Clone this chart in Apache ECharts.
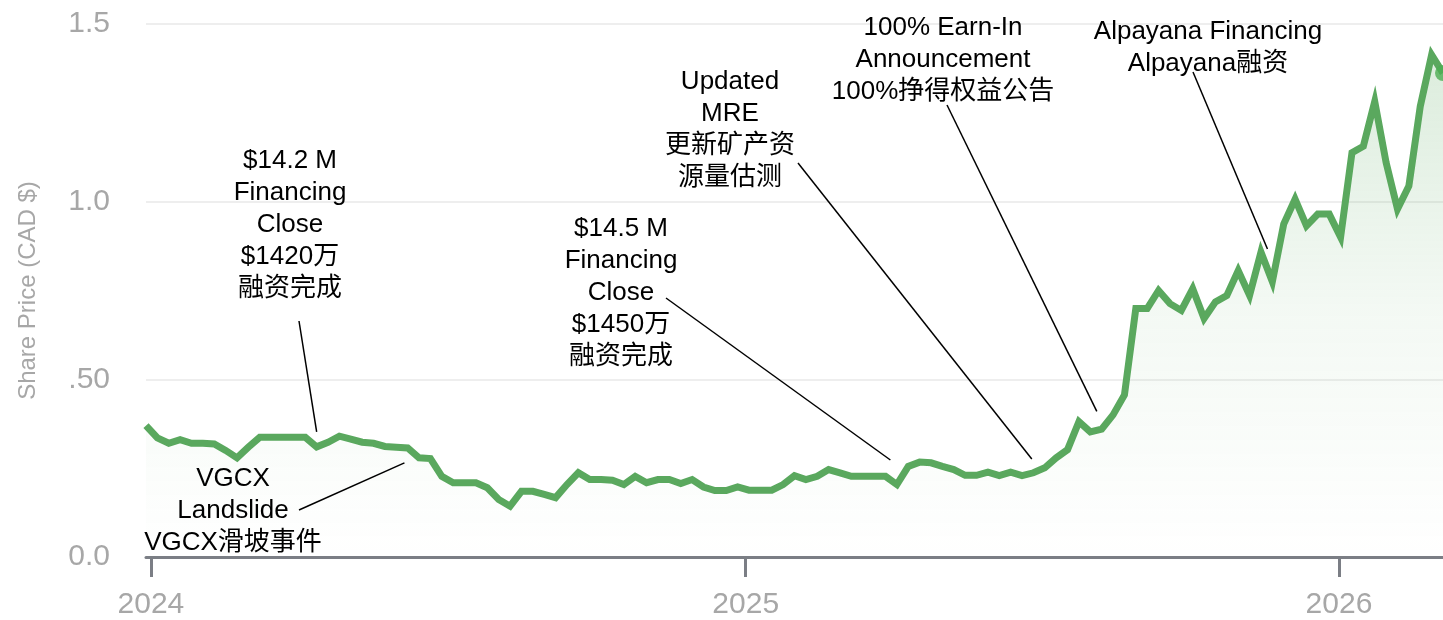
<!DOCTYPE html>
<html>
<head>
    <meta charset="utf-8">
    <title>Share Price</title>
    <script src="https://cdn.jsdelivr.net/npm/echarts@6/dist/echarts.min.js"></script>
    <style>
        html, body { margin: 0; padding: 0; background: #fff; }
    </style>
</head>
<body>
    <div id="main" style="width: 1443px;height:620px;"></div>
    <script type="text/javascript">
        // weekly closes (Fridays), first one below
        var firstWeek = '2023-12-29';
        var weeklyPrice = [
            0.37, 0.335, 0.32, 0.33, 0.32, 0.32, 0.318, 0.30, 0.279, 0.309,
            0.337, 0.337, 0.337, 0.337, 0.337, 0.31, 0.323, 0.34, 0.332, 0.323,
            0.32, 0.311, 0.309, 0.307, 0.279, 0.277, 0.227, 0.209, 0.209, 0.209,
            0.195, 0.162, 0.143, 0.185, 0.185, 0.176, 0.167, 0.204, 0.237, 0.218,
            0.218, 0.216, 0.204, 0.227, 0.209, 0.218, 0.218, 0.207, 0.218, 0.197,
            0.187, 0.187, 0.197, 0.188, 0.188, 0.188, 0.204, 0.229, 0.218, 0.227,
            0.246, 0.237, 0.227, 0.227, 0.227, 0.227, 0.204, 0.255, 0.267, 0.265,
            0.255, 0.246, 0.23, 0.23, 0.239, 0.229, 0.239, 0.229, 0.237, 0.251,
            0.279, 0.302, 0.381, 0.352, 0.36, 0.40, 0.456, 0.699, 0.699, 0.75,
            0.713, 0.694, 0.755, 0.671, 0.718, 0.736, 0.806, 0.736, 0.858, 0.775,
            0.937, 1.007, 0.932, 0.965, 0.965, 0.90, 1.138, 1.156, 1.282, 1.11,
            0.979, 1.044, 1.268, 1.413, 1.362
        ];
        var yearTicks = ['2024-01-01', '2025-01-01', '2026-01-01'];
        var priceTicks = {0: '0.0', 0.5: '.50', 1: '1.0', 1.5: '1.5'};

        // events
        var eventLabels = [
            '$14.2 M\nFinancing\nClose\n$1420万\n融资完成',
            'VGCX\nLandslide\nVGCX滑坡事件',
            '$14.5 M\nFinancing\nClose\n$1450万\n融资完成',
            'Updated\nMRE\n更新矿产资\n源量估测',
            '100% Earn-In\nAnnouncement\n100%挣得权益公告',
            'Alpayana Financing\nAlpayana融资'
        ];
        var eventDates = ['2024-04-12', '2024-06-05', '2025-03-31', '2025-06-26', '2025-08-05', '2025-11-18'];
        var eventPrices = [0.352, 0.265, 0.273, 0.276, 0.41, 0.867];

        // where the text boxes sit (center x, top y) and where the leader line leaves them
        var labelPos = [[290, 145], [233, 463], [621, 213], [730, 66], [943, 12], [1208, 16]];
        var leaderFrom = [[299, 321], [299, 510], [666, 298], [798, 163], [947, 105], [1193, 72]];

        function utc(s) {
            var p = s.split('-');
            return Date.UTC(+p[0], +p[1] - 1, +p[2]);
        }

        var seriesData = [];
        var t0 = utc(firstWeek);
        for (var i = 0; i < weeklyPrice.length; i++) {
            seriesData.push([t0 + i * 7 * 86400000, weeklyPrice[i]]);
        }
        var lastPoint = seriesData[seriesData.length - 1];
        var yearTickValues = yearTicks.map(utc);

        var textFont = "26px 'Liberation Sans', 'Noto Sans CJK SC', sans-serif";
        var grey = '#a7a7a7';

        var myChart = echarts.init(document.getElementById('main'));

        // x is a plain value axis of timestamps so the year ticks can be placed exactly
        var option = {
            animation: false,
            grid: { left: 146, right: 0, top: 24, bottom: 60 },
            xAxis: {
                type: 'value',
                min: seriesData[0][0],
                max: lastPoint[0],
                axisLine: { lineStyle: { color: '#7b7e85', width: 3 } },
                axisTick: {
                    show: true,
                    length: 20,
                    customValues: yearTickValues,
                    lineStyle: { color: '#7b7e85', width: 3 }
                },
                axisLabel: {
                    customValues: yearTickValues,
                    formatter: function (v) { return String(new Date(v).getUTCFullYear()); },
                    color: grey,
                    fontSize: 30,
                    fontFamily: 'Liberation Sans',
                    margin: 33,
                    showMinLabel: true,
                    showMaxLabel: true
                },
                splitLine: { show: false }
            },
            yAxis: {
                type: 'value',
                min: 0,
                max: 1.5,
                interval: 0.5,
                name: 'Share Price (CAD $)',
                nameLocation: 'middle',
                nameGap: 106,
                nameTextStyle: { color: grey, fontSize: 24, fontFamily: 'Liberation Sans' },
                axisLine: { show: false },
                axisTick: { show: false },
                axisLabel: {
                    formatter: function (v) { return priceTicks[v]; },
                    color: grey,
                    fontSize: 30,
                    fontFamily: 'Liberation Sans',
                    margin: 36
                },
                splitLine: { lineStyle: { color: '#eeeeee', width: 2 } }
            },
            series: [
                {
                    type: 'line',
                    data: seriesData,
                    showSymbol: false,
                    symbol: 'none',
                    lineStyle: { color: '#5aa85e', width: 7, join: 'miter' },
                    areaStyle: {
                        color: new echarts.graphic.LinearGradient(0, 0, 0, 1, [
                            { offset: 0, color: 'rgba(90,168,94,0.30)' },
                            { offset: 0.5, color: 'rgba(90,168,94,0.10)' },
                            { offset: 1, color: 'rgba(90,168,94,0)' }
                        ])
                    },
                    z: 3
                },
                {
                    type: 'scatter',
                    data: [lastPoint],
                    symbolSize: 16,
                    itemStyle: { color: '#4cae52' },
                    z: 4
                }
            ]
        };
        myChart.setOption(option);

        // annotations: text + leader line to the price on that date
        var graphics = [];
        for (var k = 0; k < eventLabels.length; k++) {
            var end = myChart.convertToPixel({ gridIndex: 0 }, [utc(eventDates[k]), eventPrices[k]]);
            graphics.push({
                type: 'line',
                shape: { x1: leaderFrom[k][0], y1: leaderFrom[k][1], x2: end[0], y2: end[1] },
                style: { stroke: '#000', lineWidth: 1.5 },
                z: 10
            });
            graphics.push({
                type: 'text',
                x: labelPos[k][0],
                y: labelPos[k][1],
                style: {
                    text: eventLabels[k],
                    font: textFont,
                    fill: '#000',
                    align: 'center',
                    verticalAlign: 'top',
                    lineHeight: 32
                },
                z: 10
            });
        }
        myChart.setOption({ graphic: graphics });
    </script>
</body>
</html>
